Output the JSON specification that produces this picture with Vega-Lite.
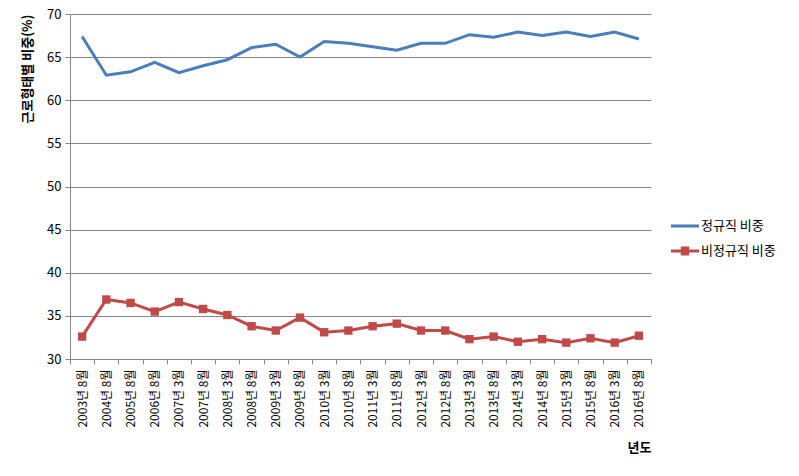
{
  "$schema": "https://vega.github.io/schema/vega-lite/v6.json",
  "width": 581,
  "height": 345,
  "autosize": {"type": "none"},
  "padding": {"left": 70, "top": 14, "right": 148, "bottom": 117},
  "background": "white",
  "config": {
    "font": "Noto Sans CJK KR",
    "view": {"stroke": null},
    "axis": {"labelFont": "Noto Sans CJK KR", "titleFont": "Noto Sans CJK KR", "labelColor": "#000", "titleColor": "#000"}
  },
  "data": {
    "values": [
      {"period": "2003년 8월", "series": "정규직 비중", "value": 67.4},
      {"period": "2004년 8월", "series": "정규직 비중", "value": 62.9},
      {"period": "2005년 8월", "series": "정규직 비중", "value": 63.3},
      {"period": "2006년 8월", "series": "정규직 비중", "value": 64.4},
      {"period": "2007년 3월", "series": "정규직 비중", "value": 63.2},
      {"period": "2007년 8월", "series": "정규직 비중", "value": 64.0},
      {"period": "2008년 3월", "series": "정규직 비중", "value": 64.7},
      {"period": "2008년 8월", "series": "정규직 비중", "value": 66.1},
      {"period": "2009년 3월", "series": "정규직 비중", "value": 66.5},
      {"period": "2009년 8월", "series": "정규직 비중", "value": 65.0},
      {"period": "2010년 3월", "series": "정규직 비중", "value": 66.8},
      {"period": "2010년 8월", "series": "정규직 비중", "value": 66.6},
      {"period": "2011년 3월", "series": "정규직 비중", "value": 66.2},
      {"period": "2011년 8월", "series": "정규직 비중", "value": 65.8},
      {"period": "2012년 3월", "series": "정규직 비중", "value": 66.6},
      {"period": "2012년 8월", "series": "정규직 비중", "value": 66.6},
      {"period": "2013년 3월", "series": "정규직 비중", "value": 67.6},
      {"period": "2013년 8월", "series": "정규직 비중", "value": 67.3},
      {"period": "2014년 3월", "series": "정규직 비중", "value": 67.9},
      {"period": "2014년 8월", "series": "정규직 비중", "value": 67.5},
      {"period": "2015년 3월", "series": "정규직 비중", "value": 67.9},
      {"period": "2015년 8월", "series": "정규직 비중", "value": 67.4},
      {"period": "2016년 3월", "series": "정규직 비중", "value": 67.9},
      {"period": "2016년 8월", "series": "정규직 비중", "value": 67.1},
      {"period": "2003년 8월", "series": "비정규직 비중", "value": 32.6},
      {"period": "2004년 8월", "series": "비정규직 비중", "value": 36.9},
      {"period": "2005년 8월", "series": "비정규직 비중", "value": 36.5},
      {"period": "2006년 8월", "series": "비정규직 비중", "value": 35.5},
      {"period": "2007년 3월", "series": "비정규직 비중", "value": 36.6},
      {"period": "2007년 8월", "series": "비정규직 비중", "value": 35.8},
      {"period": "2008년 3월", "series": "비정규직 비중", "value": 35.1},
      {"period": "2008년 8월", "series": "비정규직 비중", "value": 33.8},
      {"period": "2009년 3월", "series": "비정규직 비중", "value": 33.3},
      {"period": "2009년 8월", "series": "비정규직 비중", "value": 34.8},
      {"period": "2010년 3월", "series": "비정규직 비중", "value": 33.1},
      {"period": "2010년 8월", "series": "비정규직 비중", "value": 33.3},
      {"period": "2011년 3월", "series": "비정규직 비중", "value": 33.8},
      {"period": "2011년 8월", "series": "비정규직 비중", "value": 34.1},
      {"period": "2012년 3월", "series": "비정규직 비중", "value": 33.3},
      {"period": "2012년 8월", "series": "비정규직 비중", "value": 33.3},
      {"period": "2013년 3월", "series": "비정규직 비중", "value": 32.3},
      {"period": "2013년 8월", "series": "비정규직 비중", "value": 32.6},
      {"period": "2014년 3월", "series": "비정규직 비중", "value": 32.0},
      {"period": "2014년 8월", "series": "비정규직 비중", "value": 32.3},
      {"period": "2015년 3월", "series": "비정규직 비중", "value": 31.9},
      {"period": "2015년 8월", "series": "비정규직 비중", "value": 32.4},
      {"period": "2016년 3월", "series": "비정규직 비중", "value": 31.9},
      {"period": "2016년 8월", "series": "비정규직 비중", "value": 32.7}
    ]
  },
  "encoding": {
    "x": {
      "field": "period", "type": "ordinal", "sort": null,
      "scale": {"type": "band", "paddingInner": 0, "paddingOuter": 0},
      "axis": {
        "title": "년도", "titleAnchor": "end", "titleFontSize": 13, "titleFontWeight": "bold", "titlePadding": 14,
        "labelAngle": 270, "labelAlign": "right", "labelBaseline": "middle", "labelFontSize": 12, "labelPadding": 5,
        "tickBand": "extent", "tickSize": 5, "tickColor": "#868686", "domainColor": "#868686", "grid": false
      }
    },
    "y": {
      "field": "value", "type": "quantitative",
      "scale": {"domain": [30, 70], "nice": false, "zero": false},
      "axis": {
        "title": "근로형태별 비중(%)", "titleAnchor": "end", "titleFontSize": 13, "titleFontWeight": "bold", "titlePadding": 12,
        "values": [30, 35, 40, 45, 50, 55, 60, 65, 70], "labelFontSize": 13, "labelPadding": 4,
        "tickSize": 5, "tickColor": "#868686", "domainColor": "#868686", "gridColor": "#868686", "gridOpacity": 1
      }
    },
    "color": {
      "field": "series", "type": "nominal",
      "scale": {"domain": ["정규직 비중", "비정규직 비중"], "range": ["#4A7EBB", "#BE4B48"]},
      "legend": {
        "title": null, "orient": "none", "legendX": 601, "legendY": 198,
        "labelFontSize": 13, "labelFont": "Noto Sans CJK KR", "labelColor": "#000",
        "symbolSize": 784, "symbolOpacity": 1, "symbolStrokeWidth": 0, "rowPadding": 4, "labelOffset": 2
      }
    }
  },
  "layer": [
    {
      "mark": {"type": "point", "filled": true, "opacity": 0, "size": 1},
      "encoding": {
        "shape": {
          "field": "series", "type": "nominal",
          "scale": {"domain": ["정규직 비중", "비정규직 비중"], "range": ["M-1,-0.11H1V0.11H-1Z", "M-1,-0.11H-0.3V-0.32H0.3V-0.11H1V0.11H0.3V0.32H-0.3V0.11H-1Z"]},
          "legend": {
            "title": null, "orient": "none", "legendX": 601, "legendY": 198,
            "labelFontSize": 13, "labelColor": "#000", "symbolSize": 784, "symbolOpacity": 1, "symbolStrokeWidth": 0, "rowPadding": 4, "labelOffset": 2
          }
        }
      }
    },
    {
      "mark": {"type": "line", "strokeWidth": 3}
    },
    {
      "transform": [{"filter": "datum.series === '비정규직 비중'"}],
      "mark": {"type": "point", "shape": "square", "filled": true, "opacity": 1, "size": 70}
    }
  ]
}
